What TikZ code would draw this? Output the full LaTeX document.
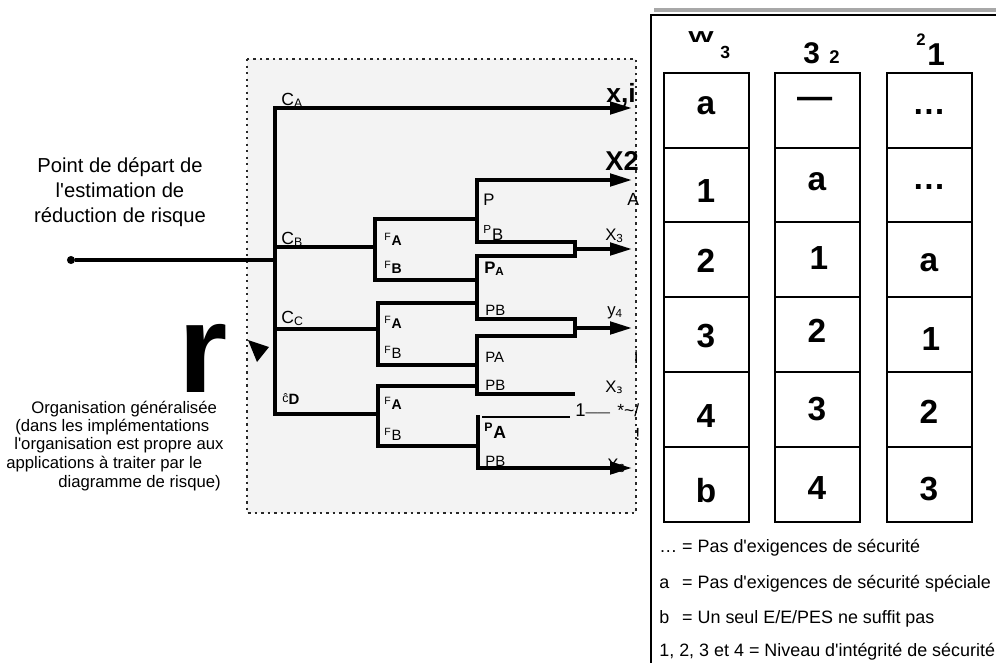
\documentclass[tikz,border=0pt]{standalone}
\usepackage{fontspec}
\setmainfont{Liberation Sans}
\newfontfamily\ipafont{DejaVu Sans}
\usetikzlibrary{arrows.meta, positioning}
\definecolor{zonefill}{HTML}{F3F3F3}
\definecolor{zoneline}{HTML}{282828}
\definecolor{bargray}{HTML}{A8A8A8}
\newcommand{\fs}[1]{\fontsize{#1}{#1}\selectfont}
\newcommand{\apos}{\textquotesingle}

\begin{document}
\begin{tikzpicture}[x=0.02cm, y=-0.02cm,
  every node/.style={inner sep=0pt},
  tree/.style={line width=2.2pt},
  flow/.style={tree, -{Triangle[length=12.5pt, width=7pt]}},
  zone/.style={draw=zoneline, fill=zonefill, line width=1.4pt, dash pattern=on 1.4pt off 2.3pt},
  column/.style={line width=1.5pt},
  cell/.style={font=\bfseries\fs{19}},
  branch/.style={anchor=base west, font=\fs{10}},
  flabel/.style={anchor=base west, font=\bfseries\fs{8}},
  plabel/.style={anchor=base west, font=\fs{8.5}},
  outlbl/.style={anchor=base west, font=\fs{9.5}},
  hdr/.style={anchor=base west, font=\bfseries\fs{#1}},
  legend/.style={anchor=base west, font=\fs{10.2}},
  orgline/.style={anchor=base west, font=\fs{9.5}}
]
  \useasboundingbox (0,0) rectangle (996,663);
  \draw[zone] (247,59) rectangle (636,513);

  \node[align=center, font=\fontsize{11.5}{14.2}\selectfont] (startlbl) at (120,192.5)
    {Point de départ de\\l\apos estimation de\\réduction de risque};
  \node[circle, fill, minimum size=4.6pt] (start) at (71,260) {};

  \coordinate (cA) at (275,108);
  \coordinate (cB) at (275,247);
  \coordinate (cC) at (275,329);
  \coordinate (cD) at (275,414);
  \coordinate (fBa) at (375,219);
  \coordinate (fBb) at (375,280);
  \coordinate (fCa) at (378,303);
  \coordinate (fCb) at (378,365);
  \coordinate (fDa) at (378,386);
  \coordinate (fDb) at (378,446);
  \coordinate (p1a) at (477,180);
  \coordinate (p1b) at (477,242);
  \coordinate (p2a) at (477,256);
  \coordinate (p2b) at (477,319);
  \coordinate (p3a) at (477,336);
  \coordinate (p3b) at (477,394);
  \coordinate (p4a) at (478,415);
  \coordinate (p4b) at (478,468);
  \coordinate (m1) at (575,249);
  \coordinate (m2) at (575,328);
  \coordinate (cut) at (570,417);
  \coordinate (oA) at (632,108);
  \coordinate (oB) at (632,180);
  \coordinate (oC) at (632,249);
  \coordinate (oD) at (632,328);
  \coordinate (oE) at (632,468);

  \draw[line width=1.8pt] (start) -- (start -| cA);
  \draw[flow] (cD -| fDa) -- (cD) -- (cA) -- (oA);
  \draw[tree] (cB) -- (cB -| fBa);
  \draw[tree] (cC) -- (cC -| fCa);
  \draw[tree] (p1a |- fBa) -- (fBa) -- (fBb) -- (p2a |- fBb);
  \draw[tree] (p2a |- fCa) -- (fCa) -- (fCb) -- (p3a |- fCb);
  \draw[tree] (p3a |- fDa) -- (fDa) -- (fDb) -- (p4a |- fDb);
  \draw[tree, {Triangle[length=12.5pt, width=7pt]}-] (oB) -- (p1a) -- (p1b) -- (p1b -| m1)
    -- (p2a -| m1) -- (p2a) -- (p2b) -- (p2b -| m2) -- (p3a -| m2) -- (p3a) -- (p3b) -- (p3b -| m2);
  \draw[flow] (m1) -- (oC);
  \draw[flow] (m2) -- (oD);
  \draw[flow] (p4a) -- (p4b) -- (oE);
  \draw[line width=1.5pt] (p4a |- cut) ++(4,0) -- (cut);

  \node[branch] (lA) at (281,105) {C\textsubscript{A}};
  \node[branch] (lB) at (281,244) {C\textsubscript{B}};
  \node[branch] (lC) at (281,323) {C\textsubscript{C}};
  \node[branch] (lD) at (282,402) {{\fs{7}ĉ}\raisebox{-1.5pt}{\bfseries\fs{8.5}D}};

  \node[flabel] (fAB) at (384,245) {\textsuperscript{\mdseries F}A};
  \node[flabel] (fBB) at (384,273) {\textsuperscript{\mdseries F}B};
  \node[flabel] (fAC) at (384,328) {\textsuperscript{\mdseries F}A};
  \node[plabel] (fBC) at (384,358) {\textsuperscript{F}B};
  \node[flabel] (fAD) at (384,409) {\textsuperscript{\mdseries F}A};
  \node[plabel] (fBD) at (384,440) {\textsuperscript{F}B};

  \node[plabel, font=\fs{9.5}] (pP) at (483,205) {P};
  \node[plabel, font=\fs{9.5}] (pPB) at (483,240) {\textsuperscript{P}B};
  \node[plabel, font=\bfseries\fs{9.5}] (pPA) at (484,273) {P\textsubscript{A}};
  \node[plabel] (pB2) at (485,315) {PB};
  \node[plabel] (pA3) at (485,362) {PA};
  \node[plabel] (pB3) at (485,390) {PB};
  \node[plabel, font=\bfseries\fs{10}] (pA4) at (484,438) {\textsuperscript{P}A};
  \node[plabel] (pB4) at (485,466) {PB};

  \node[anchor=base west, font=\bfseries\fs{15}] (xi) at (606,102) {x,i};
  \node[anchor=base west, font=\bfseries\fs{15.5}] (xtwo) at (605,170) {X2};
  \node[outlbl, font=\fs{10}] (xA) at (627,205) {A};
  \node[outlbl] (xthree) at (605,240) {X\textsubscript{3}};
  \node[outlbl] (yfour) at (607,315) {y\textsubscript{4}};
  \node[outlbl, font=\fs{10}] (ibar) at (634,363) {i};
  \node[outlbl] (xfive) at (605,392) {X\textsubscript{\ipafont ɜ}};
  \node[outlbl, font=\fs{10.5}] (onedash) at (575,416) {1{\fs{7}——}};
  \node[outlbl, font=\fs{10}] (star) at (617,416) {*\textasciitilde/};
  \node[outlbl, font=\fs{10}] (bang) at (635,440) {!};
  \node[outlbl] (xsix) at (607,470) {X\textsubscript{6}};

  \node[anchor=base, font=\bfseries\fs{72}] (bigr) at (203,392) {r};
  \fill (248,340) -- (269,347) -- (257,362) -- cycle;

  \node[orgline] (org1) at (31,413) {Organisation généralisée};
  \node[orgline] (org2) at (15,431) {(dans les implémentations};
  \node[orgline] (org3) at (14,449) {l\apos organisation est propre aux};
  \node[orgline] (org4) at (6,468) {applications à traiter par le};
  \node[orgline] (org5) at (58,487) {diagramme de risque)};

  \draw[bargray, line width=2.4pt] (654,10) -- (996,10);
  \draw[line width=1.3pt] (651,15) -- (996,15);
  \draw[line width=1.3pt] (651,14.4) -- (651,663);
  \foreach \x in {664,775,887} {
    \draw[column] (\x,73) rectangle ++(85,449);
    \foreach \y in {148,222,297,372,447}
      \draw[column] (\x,\y) -- ++(85,0);
  }

  \node[hdr=9] (hw) at (688,42) {\scalebox{1.7}[1]{W}};
  \node[hdr=10] (hwsub) at (720,58) {3};
  \node[hdr=17] (hs) at (803,63) {3};
  \node[hdr=10.5] (hssub) at (829,63) {2};
  \node[hdr=9.5] (hosup) at (916,45) {2};
  \node[hdr=18] (ho) at (927,65) {1};

  \node[cell] (w1) at (706,106) {a};
  \node[cell] (w2) at (706,191) {1};
  \node[cell] (w3) at (706,261) {2};
  \node[cell] (w4) at (706,336) {3};
  \node[cell] (w5) at (706,416) {4};
  \node[cell] (w6) at (706,491) {b};
  \node[cell, font=\bfseries\fs{20}] (s1) at (815,103) {—};
  \node[cell] (s2) at (817,182) {a};
  \node[cell] (s3) at (819,258) {1};
  \node[cell] (s4) at (817,331) {2};
  \node[cell] (s5) at (817,409) {3};
  \node[cell] (s6) at (817,488) {4};
  \node[cell] (o1) at (929,112) {…};
  \node[cell] (o2) at (929,187) {…};
  \node[cell] (o3) at (929,263) {a};
  \node[cell] (o4) at (931,339) {1};
  \node[cell] (o5) at (929,412) {2};
  \node[cell] (o6) at (929,489) {3};

  \node[legend] (lg1) at (659,552) {\makebox[13pt][l]{…}= Pas d\apos exigences de sécurité};
  \node[legend] (lg2) at (659,588) {\makebox[13pt][l]{a}= Pas d\apos exigences de sécurité spéciale};
  \node[legend] (lg3) at (659,623) {\makebox[13pt][l]{b}= Un seul E/E/PES ne suffit pas};
  \node[legend] (lg4) at (659,656) {1, 2, 3 et 4 = Niveau d\apos intégrité de sécurité};
\end{tikzpicture}
\end{document}
